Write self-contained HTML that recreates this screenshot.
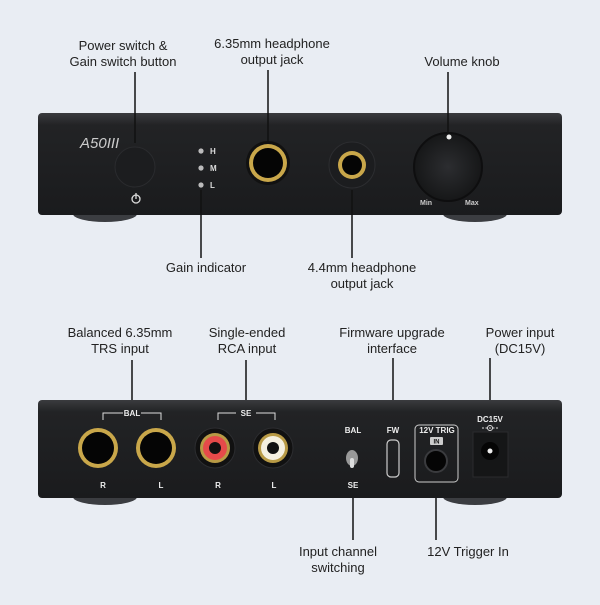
<!DOCTYPE html>
<html><head><style>body{margin:0;background:#e9edf3}</style></head><body>
<svg width="600" height="600" viewBox="0 0 600 600" xmlns="http://www.w3.org/2000/svg" font-family="Liberation Sans, sans-serif">
<defs>
<linearGradient id="bd" x1="0" y1="0" x2="0" y2="1"><stop offset="0" stop-color="#3a3b3e"/><stop offset="0.12" stop-color="#222325"/><stop offset="1" stop-color="#1a1b1d"/></linearGradient>
<radialGradient id="kn" cx="0.5" cy="0.5" r="0.5"><stop offset="0" stop-color="#2c2d30"/><stop offset="1" stop-color="#161718"/></radialGradient>
</defs>
<rect width="600" height="600" fill="#e9edf3"/>
<g fill="#222" font-size="13" text-anchor="middle">
<text x="123" y="50">Power switch &amp;</text><text x="123" y="66">Gain switch button</text>
<text x="272" y="48">6.35mm headphone</text><text x="272" y="64">output jack</text>
<text x="462" y="66">Volume knob</text>
<text x="206" y="272">Gain indicator</text>
<text x="362" y="272">4.4mm headphone</text><text x="362" y="288">output jack</text>
<text x="120" y="337">Balanced 6.35mm</text><text x="120" y="353">TRS input</text>
<text x="247" y="337">Single-ended</text><text x="247" y="353">RCA input</text>
<text x="392" y="337">Firmware upgrade</text><text x="392" y="353">interface</text>
<text x="520" y="337">Power input</text><text x="520" y="353">(DC15V)</text>
<text x="338" y="556">Input channel</text><text x="338" y="572">switching</text>
<text x="468" y="556">12V Trigger In</text>
</g>
<!-- front -->
<ellipse cx="105" cy="214" rx="32" ry="8" fill="#3b3d41"/><ellipse cx="475" cy="214" rx="32" ry="8" fill="#3b3d41"/>
<rect x="38" y="113" width="524" height="102" rx="4" fill="url(#bd)"/>
<text x="80" y="148" fill="#ccc" font-size="15" font-style="italic">A50III</text>
<circle cx="135" cy="167" r="20" fill="#1c1d1f" stroke="#2a2b2e"/>
<circle cx="136" cy="199" r="4" fill="none" stroke="#ddd" stroke-width="1.3"/><line x1="136" y1="193" x2="136" y2="199" stroke="#ddd" stroke-width="1.3"/>
<g fill="#bbb"><circle cx="201" cy="151" r="2.6"/><circle cx="201" cy="168" r="2.6"/><circle cx="201" cy="185" r="2.6"/></g>
<g fill="#ddd" font-size="8" font-weight="bold"><text x="210" y="154">H</text><text x="210" y="171">M</text><text x="210" y="188">L</text></g>
<circle cx="268" cy="163" r="22" fill="#111"/><circle cx="268" cy="163" r="19" fill="#c9a74a"/><circle cx="268" cy="163" r="15" fill="#050505"/>
<circle cx="352" cy="165" r="23" fill="#1c1d1f" stroke="#2c2d30"/><circle cx="352" cy="165" r="14" fill="#c9a74a"/><circle cx="352" cy="165" r="10" fill="#050505"/>
<circle cx="448" cy="167" r="34" fill="url(#kn)" stroke="#0e0e0f" stroke-width="2"/><circle cx="449" cy="137" r="2.5" fill="#eee"/>
<g fill="#ccc" font-size="7" font-weight="bold"><text x="420" y="205">Min</text><text x="465" y="205">Max</text></g>
<g stroke="#111" stroke-width="1.5"><line x1="135" y1="72" x2="135" y2="143"/><line x1="268" y1="70" x2="268" y2="141"/><line x1="448" y1="72" x2="448" y2="133"/><line x1="201" y1="190" x2="201" y2="258"/><line x1="352" y1="190" x2="352" y2="258"/>
<line x1="132" y1="360" x2="132" y2="411"/><line x1="246" y1="360" x2="246" y2="411"/><line x1="393" y1="358" x2="393" y2="425"/><line x1="490" y1="358" x2="490" y2="412"/><line x1="353" y1="490" x2="353" y2="540"/><line x1="436" y1="472" x2="436" y2="540"/></g>
<!-- rear -->
<ellipse cx="105" cy="497" rx="32" ry="8" fill="#3b3d41"/><ellipse cx="475" cy="497" rx="32" ry="8" fill="#3b3d41"/>
<rect x="38" y="400" width="524" height="98" rx="4" fill="url(#bd)"/>
<g stroke="#ddd" fill="none" stroke-width="1"><path d="M103 420V413H123M141 413H161V420"/><path d="M218 420V413H236M256 413H275V420"/></g>
<g fill="#eee" font-size="8" font-weight="bold" text-anchor="middle"><text x="132" y="416">BAL</text><text x="246" y="416">SE</text>
<text x="103" y="488">R</text><text x="161" y="488">L</text><text x="218" y="488">R</text><text x="274" y="488">L</text>
<text x="353" y="433">BAL</text><text x="353" y="488">SE</text><text x="393" y="433">FW</text><text x="437" y="433">12V TRIG</text><text x="490" y="422">DC15V</text></g>
<circle cx="98" cy="448" r="20" fill="#c9a74a"/><circle cx="98" cy="448" r="16" fill="#050505"/>
<circle cx="156" cy="448" r="20" fill="#c9a74a"/><circle cx="156" cy="448" r="16" fill="#050505"/>
<circle cx="215" cy="448" r="20" fill="#111" stroke="#2c2d30"/><circle cx="215" cy="448" r="15" fill="#b89a45"/><circle cx="215" cy="448" r="12" fill="#e54a4a"/><circle cx="215" cy="448" r="6" fill="#111"/>
<circle cx="273" cy="448" r="20" fill="#111" stroke="#2c2d30"/><circle cx="273" cy="448" r="15" fill="#b89a45"/><circle cx="273" cy="448" r="12" fill="#f4f0e0"/><circle cx="273" cy="448" r="6" fill="#111"/>
<ellipse cx="352" cy="458" rx="6" ry="8" fill="#999"/><rect x="350" y="458" width="4" height="10" rx="2" fill="#ddd"/>
<rect x="387" y="440" width="12" height="37" rx="4" fill="none" stroke="#ccc" stroke-width="1.2"/>
<rect x="415" y="425" width="43" height="57" rx="4" fill="none" stroke="#ccc" stroke-width="1"/>
<rect x="430" y="437" width="13" height="8" rx="1" fill="#ccc"/><text x="436.5" y="443.5" font-size="6" font-weight="bold" fill="#111" text-anchor="middle">IN</text>
<circle cx="436" cy="461" r="11" fill="#050505" stroke="#3a3b3e" stroke-width="2"/>
<line x1="482" y1="428" x2="498" y2="428" stroke="#ddd" stroke-dasharray="2 1.5"/><circle cx="490" cy="428" r="2.5" fill="none" stroke="#ddd"/>
<rect x="473" y="432" width="35" height="45" fill="#151617" stroke="#2a2b2e"/><circle cx="490" cy="451" r="9" fill="#050505"/><circle cx="490" cy="451" r="2.5" fill="#eee"/>
</svg>
</body></html>
